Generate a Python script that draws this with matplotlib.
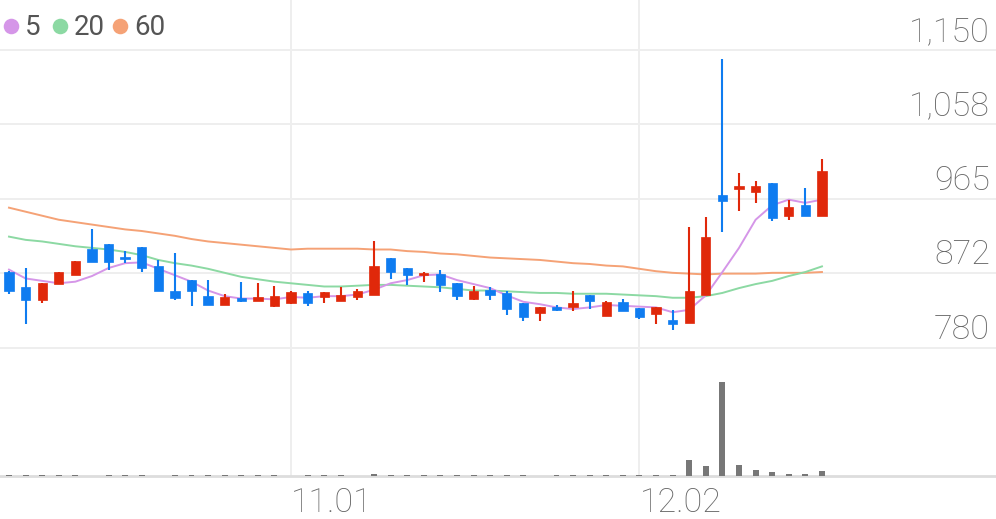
import matplotlib
matplotlib.use("Agg")
import matplotlib.pyplot as plt
from matplotlib.lines import Line2D
import numpy as np

# ---- data ----
opens  = [874,856,839,859,870,903,909,893,905,881,851,864,844,833,842,838,832,836,848,843,
          838,843,845,892,879,870,872,860,841,852,848,835,823,830,831,845,819,837,829,822,
          814,810,845,970,977,973,985,944,957,944]
highs  = [875,879,860,874,888,927,909,900,905,889,898,864,864,847,862,860,857,850,851,849,
          855,853,912,892,879,874,876,860,857,855,850,835,830,833,850,845,838,840,829,830,
          827,930,942,1139,997,987,985,964,979,1014]
lows   = [847,809,836,859,870,886,876,885,874,850,839,832,833,833,837,838,830,834,832,835,
          838,839,845,865,858,861,849,839,839,839,821,813,813,825,825,828,819,825,815,809,
          802,810,845,924,950,960,937,939,944,944]
closes = [850,839,860,874,888,886,887,890,879,850,842,850,833,843,838,843,844,849,835,849,
          845,850,881,874,870,873,858,844,850,845,828,818,830,827,835,838,837,825,818,830,
          809,851,918,962,981,981,941,955,944,1000]
volumes = [12,12,12,10,12,0,12,12,12,0,12,12,12,12,12,12,12,0,12,12,
           12,0,25,12,12,12,12,12,12,12,12,12,0,12,12,12,12,12,12,12,
           12,164,97,947,107,64,37,24,17,50]
ma5  = [877,866,863,860,862,869,879,885,886,878,870,862,851,844,841,841,840,843,842,844,
        844,846,852,860,864,870,871,864,859,854,845,837,834,830,828,830,833,832,831,830,
        824,827,845,874,904,939,957,964,960,964]
ma20 = [918,914,912,909,906,904,902,899,895,889,885,882,878,873,868,865,862,860,858,856,
        856,857,858,858,857,856,855,853,851,851,850,849,848,848,847,847,847,846,845,844,
        842,842,844,848,854,859,863,869,874,881]
ma60 = [954,949,944,939,936,933,930,927,925,922,919,915,912,910,908,906,904,902,903,903,
        903,903,902,902,900,899,897,896,894,892,891,890,889,887,885,884,882,881,878,875,
        873,872,871,872,872,872,873,873,873,874]
ytick_vals = [1150, 1057.5, 965, 872.5, 780]
ytick_labels = ["1,150", "1,058", "965", "872", "780"]
xtick_pos = [17, 38]
xtick_labels = ["11.01", "12.02"]
legend_labels = ["5", "20", "60"]

RED = "#e0280a"
BLUE = "#0f7cf0"
C5, C20, C60 = "#d596e8", "#8cd9a3", "#f5a276"
TXT = "#666666"
GRID = "#eeeeee"

W, H = 996, 519
fig = plt.figure(figsize=(W / 100, H / 100), dpi=100)
plot_bottom = 476
ax = fig.add_axes([0, (H - plot_bottom) / H, 1, plot_bottom / H])
ax.set_xlim(-0.5425, 59.49)
ax.set_ylim(620.4, 1212.2)
for s in ax.spines.values():
    s.set_visible(False)
ax.set_xticks([])
ax.set_yticks([])

# grid
for v in ytick_vals:
    ax.axhline(v, color=GRID, lw=1.4, zorder=0)
for xp in xtick_pos:
    ax.axvline(xp, color=GRID, lw=1.4, zorder=0)
ax.axhline(620.4, color="#dddddd", lw=2.0, zorder=5, clip_on=False)

x = np.arange(len(closes))
# MA lines
ax.plot(x, ma60, color=C60, lw=1.4, zorder=2)
ax.plot(x, ma20, color=C20, lw=1.4, zorder=2)
ax.plot(x, ma5, color=C5, lw=1.4, zorder=2)

# candles
for i in range(len(closes)):
    o, h, l, c = opens[i], highs[i], lows[i], closes[i]
    col = RED if c > o else BLUE
    ax.vlines(i, l, h, color=col, lw=1.5, zorder=3)
    lo, hi = min(o, c), max(o, c)
    hgt = max(hi - lo, 2.5)
    if hi - lo < 2.5:
        lo = (lo + hi) / 2 - 1.25
    ax.bar(i, hgt, bottom=lo, width=0.56, color=col, edgecolor=col, lw=0.5, zorder=4)

# volume
axv = ax.twinx()
axv.set_ylim(0, 4775)
axv.set_xlim(-0.5425, 59.49)
axv.bar(x, volumes, width=0.36, color="#777777", zorder=1)
axv.axis("off")

# y labels
for v, lab in zip(ytick_vals, ytick_labels):
    ax.annotate(lab, xy=(1, v), xycoords=ax.get_yaxis_transform(),
                xytext=(-6, 9), textcoords="offset pixels",
                ha="right", va="baseline", fontsize=24.5, color=TXT,
                family="Roboto", fontweight="light", zorder=6)
# x labels
for xp, lab in zip(xtick_pos, xtick_labels):
    ax.annotate(lab, xy=(xp, 0), xycoords=ax.get_xaxis_transform(),
                xytext=(0, -36), textcoords="offset pixels",
                ha="left", va="baseline", fontsize=24.5, color=TXT,
                family="Roboto", fontweight="light", annotation_clip=False)

# legend
dot_x = [10.5, 60, 120]
txt_x = [25, 74, 134]
for dx, tx, lab, col in zip(dot_x, txt_x, legend_labels, [C5, C20, C60]):
    fig.add_artist(Line2D([dx / W], [1 - 26 / H], marker="o", markersize=11.2,
                          color=col, markeredgewidth=0, transform=fig.transFigure))
    fig.text(tx / W, 1 - 35 / H, lab, fontsize=20, color="#555555", family="Roboto",
             ha="left", va="baseline")

fig.savefig("out.png", dpi=100)
